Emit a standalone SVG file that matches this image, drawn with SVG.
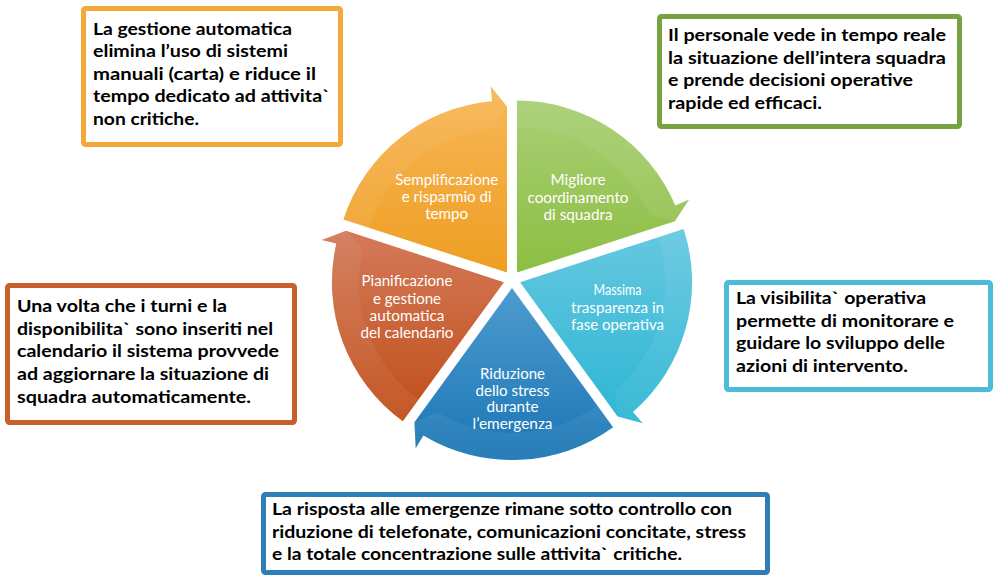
<svg xmlns="http://www.w3.org/2000/svg" width="1002" height="584" viewBox="0 0 1002 584">
<defs>
<linearGradient id="gO" x1="0" y1="0" x2="0" y2="1"><stop offset="0" stop-color="#F8B757"/><stop offset="1" stop-color="#EE9E22"/></linearGradient>
<linearGradient id="gG" x1="0" y1="0" x2="0" y2="1"><stop offset="0" stop-color="#A9CF75"/><stop offset="1" stop-color="#8DBE43"/></linearGradient>
<linearGradient id="gC" x1="0" y1="0" x2="0" y2="1"><stop offset="0" stop-color="#66C8E0"/><stop offset="1" stop-color="#2DB6D4"/></linearGradient>
<linearGradient id="gB" x1="0" y1="0" x2="0" y2="1"><stop offset="0" stop-color="#4E9BCF"/><stop offset="1" stop-color="#1A76B4"/></linearGradient>
<linearGradient id="gR" x1="0" y1="0" x2="0" y2="1"><stop offset="0" stop-color="#D47A5A"/><stop offset="1" stop-color="#C04E18"/></linearGradient>
<style>
.box{fill:#FFFFFF;stroke-width:5}
.bt{font-family:Lato,"Open Sans","Liberation Sans",sans-serif;font-weight:bold;font-size:17px;fill:#000000}
.wt{font-family:Lato,"Open Sans","Liberation Sans",sans-serif;font-size:14.5px;fill:#FFFFFF;text-anchor:middle}
.band{fill:#FFFFFF;opacity:0.06}
</style>
</defs>
<rect width="1002" height="584" fill="#FFFFFF"/>

<g id="cycle">
<g id="wedge-orange">
<path d="M507,272.62 L343.42,219.47 A172,172 0 0 1 492.01,101.28 L490.7,86.33 L507,106.62 Z" fill="url(#gO)"/>
<path class="band" d="M343.42,219.47 A172,172 0 0 1 492.01,101.28 L490.7,86.33 L507,106.62 L494.36,128.17 A145,145 0 0 0 369.1,227.81 Z"/>
<text class="wt" x="446.7" y="185" textLength="103" lengthAdjust="spacingAndGlyphs">Semplificazione</text>
<text class="wt" x="446.7" y="202.3" textLength="90" lengthAdjust="spacingAndGlyphs">e risparmio di</text>
<text class="wt" x="446.7" y="219.3" textLength="43" lengthAdjust="spacingAndGlyphs">tempo</text>
</g>
<g id="wedge-green">
<path d="M517,272.62 L517,100.62 A172,172 0 0 1 675.33,205.41 L689.13,199.55 L674.88,221.32 Z" fill="url(#gG)"/>
<path class="band" d="M517,100.62 A172,172 0 0 1 675.33,205.41 L689.13,199.55 L674.88,221.32 L650.47,215.96 A145,145 0 0 0 517,127.62 Z"/>
<text class="wt" x="578" y="185" textLength="55" lengthAdjust="spacingAndGlyphs">Migliore</text>
<text class="wt" x="578" y="202.5" textLength="101" lengthAdjust="spacingAndGlyphs">coordinamento</text>
<text class="wt" x="578" y="219.5" textLength="69" lengthAdjust="spacingAndGlyphs">di squadra</text>
</g>
<g id="wedge-cyan">
<path d="M520.08,282.13 L683.66,228.98 A172,172 0 0 1 632.92,411.94 L642.76,423.26 L617.65,416.43 Z" fill="url(#gC)"/>
<path class="band" d="M683.66,228.98 A172,172 0 0 1 632.92,411.94 L642.76,423.26 L617.65,416.43 L615.21,391.56 A145,145 0 0 0 657.98,237.32 Z"/>
<text class="wt" x="617.5" y="295" textLength="48" lengthAdjust="spacingAndGlyphs">Massima</text>
<text class="wt" x="617.5" y="312.5" textLength="93" lengthAdjust="spacingAndGlyphs">trasparenza in</text>
<text class="wt" x="617.5" y="330" textLength="93" lengthAdjust="spacingAndGlyphs">fase operativa</text>
</g>
<g id="wedge-blue">
<path d="M512,288 L613.1,427.15 A172,172 0 0 1 423.41,435.43 L415.69,448.29 L414.43,422.3 Z" fill="url(#gB)"/>
<path class="band" d="M613.1,427.15 A172,172 0 0 1 423.41,435.43 L415.69,448.29 L414.43,422.3 L437.32,412.29 A145,145 0 0 0 597.23,405.31 Z"/>
<text class="wt" x="512.5" y="378.5" textLength="65" lengthAdjust="spacingAndGlyphs">Riduzione</text>
<text class="wt" x="512.5" y="395.5" textLength="74" lengthAdjust="spacingAndGlyphs">dello stress</text>
<text class="wt" x="512.5" y="412" textLength="52" lengthAdjust="spacingAndGlyphs">durante</text>
<text class="wt" x="512.5" y="429" textLength="80" lengthAdjust="spacingAndGlyphs">l’emergenza</text>
</g>
<g id="wedge-red">
<path d="M503.92,282.13 L402.82,421.28 A172,172 0 0 1 336.33,243.44 L321.71,240.06 L346.04,230.83 Z" fill="url(#gR)"/>
<path class="band" d="M402.82,421.28 A172,172 0 0 1 336.33,243.44 L321.71,240.06 L346.04,230.83 L362.64,249.51 A145,145 0 0 0 418.69,399.44 Z"/>
<text class="wt" x="407" y="286" textLength="91" lengthAdjust="spacingAndGlyphs">Pianificazione</text>
<text class="wt" x="407" y="303.5" textLength="68" lengthAdjust="spacingAndGlyphs">e gestione</text>
<text class="wt" x="407" y="320.7" textLength="75" lengthAdjust="spacingAndGlyphs">automatica</text>
<text class="wt" x="407" y="337.8" textLength="93" lengthAdjust="spacingAndGlyphs">del calendario</text>
</g>
</g>

<g id="connectors"></g>

<g id="box-orange">
<rect class="box" x="83.5" y="8.5" width="257" height="136" rx="2" stroke="#F3A93A"/>
<text class="bt" x="93" y="35" textLength="199" lengthAdjust="spacingAndGlyphs">La gestione automatica</text>
<text class="bt" x="93" y="57.4" textLength="195" lengthAdjust="spacingAndGlyphs">elimina l’uso di sistemi</text>
<text class="bt" x="93" y="79.8" textLength="223" lengthAdjust="spacingAndGlyphs">manuali (carta) e riduce il</text>
<text class="bt" x="93" y="102.2" textLength="237" lengthAdjust="spacingAndGlyphs">tempo dedicato ad attivita`</text>
<text class="bt" x="93" y="124.6" textLength="106" lengthAdjust="spacingAndGlyphs">non critiche.</text>
</g>

<g id="box-green">
<rect class="box" x="659.5" y="16.5" width="300" height="110" rx="2" stroke="#76A23F"/>
<text class="bt" x="668" y="41" textLength="278" lengthAdjust="spacingAndGlyphs">Il personale vede in tempo reale</text>
<text class="bt" x="668" y="63.7" textLength="278" lengthAdjust="spacingAndGlyphs">la situazione dell’intera squadra</text>
<text class="bt" x="668" y="86.4" textLength="245" lengthAdjust="spacingAndGlyphs">e prende decisioni operative</text>
<text class="bt" x="668" y="109" textLength="154" lengthAdjust="spacingAndGlyphs">rapide ed efficaci.</text>
</g>

<g id="box-red">
<rect class="box" x="7.5" y="285.5" width="287" height="137" rx="2" stroke="#C8602E"/>
<text class="bt" x="17" y="312" textLength="210" lengthAdjust="spacingAndGlyphs">Una volta che i turni e la</text>
<text class="bt" x="17" y="334.7" textLength="256" lengthAdjust="spacingAndGlyphs">disponibilita` sono inseriti nel</text>
<text class="bt" x="17" y="357.4" textLength="262" lengthAdjust="spacingAndGlyphs">calendario il sistema provvede</text>
<text class="bt" x="17" y="380.1" textLength="252" lengthAdjust="spacingAndGlyphs">ad aggiornare la situazione di</text>
<text class="bt" x="17" y="402.8" textLength="234" lengthAdjust="spacingAndGlyphs">squadra automaticamente.</text>
</g>

<g id="box-cyan">
<rect class="box" x="726.5" y="282.5" width="264" height="107" rx="2" stroke="#4BBCD9"/>
<text class="bt" x="736" y="304" textLength="190" lengthAdjust="spacingAndGlyphs">La visibilita` operativa</text>
<text class="bt" x="736" y="326.7" textLength="218" lengthAdjust="spacingAndGlyphs">permette di monitorare e</text>
<text class="bt" x="736" y="349.4" textLength="209" lengthAdjust="spacingAndGlyphs">guidare lo sviluppo delle</text>
<text class="bt" x="736" y="372" textLength="172" lengthAdjust="spacingAndGlyphs">azioni di intervento.</text>
</g>

<g id="box-blue">
<rect class="box" x="263.5" y="494.5" width="504" height="78" rx="2" stroke="#2F7EB8"/>
<text class="bt" x="272" y="515" textLength="460" lengthAdjust="spacingAndGlyphs">La risposta alle emergenze rimane sotto controllo con</text>
<text class="bt" x="272" y="537.5" textLength="474" lengthAdjust="spacingAndGlyphs">riduzione di telefonate, comunicazioni concitate, stress</text>
<text class="bt" x="272" y="560" textLength="410" lengthAdjust="spacingAndGlyphs">e la totale concentrazione sulle attivita` critiche.</text>
</g>
</svg>
